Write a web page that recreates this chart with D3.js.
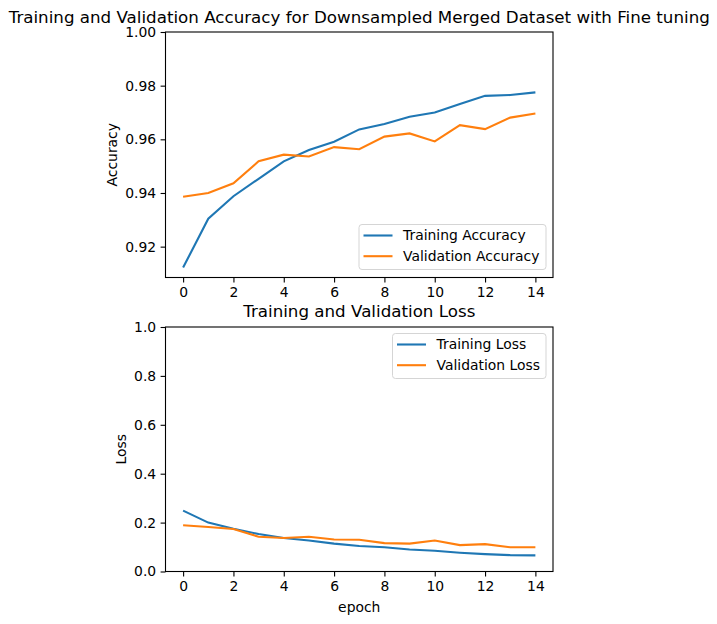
<!DOCTYPE html>
<html>
<head>
<meta charset="utf-8">
<script src="https://cdn.jsdelivr.net/npm/d3@7"></script>
<style>
  body { margin: 0; background: #fff; }
  svg text { font-family: "DejaVu Sans", sans-serif; fill: #000; }
</style>
</head>
<body>
<div id="main"></div>
<script>
// data
const epochs = d3.range(0, 15);
const trainAcc = [0.9122, 0.9304, 0.9388, 0.9453, 0.9518, 0.9560, 0.9591, 0.9637, 0.9657,
  0.9684, 0.9700, 0.9732, 0.9762, 0.9765, 0.9775];
const valAcc = [0.9386, 0.9400, 0.9436, 0.9518, 0.9543, 0.9536, 0.9571, 0.9563, 0.9610,
  0.9622, 0.9592, 0.9653, 0.9638, 0.9681, 0.9696];
const trainLoss = [0.249, 0.200, 0.175, 0.153, 0.137, 0.127, 0.114, 0.104, 0.099,
  0.090, 0.085, 0.077, 0.071, 0.067, 0.066];
const valLoss = [0.189, 0.182, 0.174, 0.142, 0.137, 0.142, 0.131, 0.130, 0.116,
  0.114, 0.127, 0.108, 0.112, 0.099, 0.099];
const xTicks = [0, 2, 4, 6, 8, 10, 12, 14];
const accTicks = [0.92, 0.94, 0.96, 0.98, 1.00];
const lossTicks = [0, 0.2, 0.4, 0.6, 0.8, 1.0];

const blue = '#1f77b4';
const orange = '#ff7f0e';
const fs = '13.9px';

const svg = d3.select('div#main')
  .append('svg')
  .attr('width', 717)
  .attr('height', 624);

const left = 165.5, right = 553;

const x = d3.scaleLinear().domain([-0.7, 14.7]).range([left, right]);

// draw one subplot
function panel(opts) {
  const y = d3.scaleLinear().domain(opts.yDomain).range([opts.bottom, opts.top]);
  const g = svg.append('g');

  // x axis
  const xa = g.append('g')
    .attr('transform', `translate(0,${opts.bottom})`)
    .call(d3.axisBottom(x).tickValues(xTicks).tickSize(4.9).tickPadding(4.4).tickFormat(d3.format('d')));
  xa.select('.domain').remove();
  xa.selectAll('text').style('font-size', fs);
  xa.selectAll('line').attr('stroke-width', 1.1);

  // y axis
  const ya = g.append('g')
    .attr('transform', `translate(${left},0)`)
    .call(d3.axisLeft(y).tickValues(opts.yTicks).tickSize(4.9).tickPadding(4.4).tickFormat(d3.format(opts.fmt)));
  ya.select('.domain').remove();
  ya.selectAll('text').style('font-size', fs);
  ya.selectAll('line').attr('stroke-width', 1.1);

  const line = d3.line().x((d, i) => x(epochs[i])).y(d => y(d));

  g.append('path').datum(opts.s1).attr('d', line)
    .attr('fill', 'none').attr('stroke', blue).attr('stroke-width', 2.1);
  g.append('path').datum(opts.s2).attr('d', line)
    .attr('fill', 'none').attr('stroke', orange).attr('stroke-width', 2.1);

  // frame
  g.append('rect')
    .attr('x', left).attr('y', opts.top)
    .attr('width', right - left).attr('height', opts.bottom - opts.top)
    .attr('fill', 'none').attr('stroke', '#000').attr('stroke-width', 1.1);

  // title
  g.append('text')
    .attr('x', (left + right) / 2).attr('y', opts.titleY)
    .attr('text-anchor', 'middle').style('font-size', '16.7px')
    .text(opts.title);

  // y label
  g.append('text')
    .attr('transform', `translate(${opts.yLabelX},${(opts.top + opts.bottom) / 2}) rotate(-90)`)
    .attr('text-anchor', 'middle').attr('dy', '0.35em').style('font-size', fs)
    .text(opts.yLabel);

  // legend
  const lg = g.append('g').attr('transform', `translate(${opts.legX},${opts.legY})`);
  lg.append('rect')
    .attr('width', opts.legW).attr('height', 45).attr('rx', 3)
    .attr('fill', '#fff').attr('fill-opacity', 0.8)
    .attr('stroke', '#d5d5d5').attr('stroke-width', 1);
  [[opts.n1, blue], [opts.n2, orange]].forEach((d, i) => {
    const yy = 11 + i * 20.7;
    lg.append('line').attr('x1', 4.5).attr('x2', 33.5).attr('y1', yy).attr('y2', yy)
      .attr('stroke', d[1]).attr('stroke-width', 2.1);
    lg.append('text').attr('x', 44).attr('y', yy).attr('dy', '0.35em')
      .style('font-size', fs).text(d[0]);
  });
}

panel({
  top: 32, bottom: 277.5, yDomain: [0.9085, 1.0], yTicks: accTicks, fmt: '.2f',
  s1: trainAcc, s2: valAcc,
  title: 'Training and Validation Accuracy for Downsampled Merged Dataset with Fine tuning',
  titleY: 23, yLabel: 'Accuracy', yLabelX: 112,
  n1: 'Training Accuracy', n2: 'Validation Accuracy',
  legX: 359, legY: 224.5, legW: 187
});

panel({
  top: 327, bottom: 571.5, yDomain: [0, 1], yTicks: lossTicks, fmt: '.1f',
  s1: trainLoss, s2: valLoss,
  title: 'Training and Validation Loss',
  titleY: 317, yLabel: 'Loss', yLabelX: 121,
  n1: 'Training Loss', n2: 'Validation Loss',
  legX: 392.5, legY: 333.5, legW: 153.5
});

// x label
svg.append('text')
  .attr('x', (left + right) / 2).attr('y', 612)
  .attr('text-anchor', 'middle').style('font-size', fs)
  .text('epoch');
</script>
</body>
</html>
